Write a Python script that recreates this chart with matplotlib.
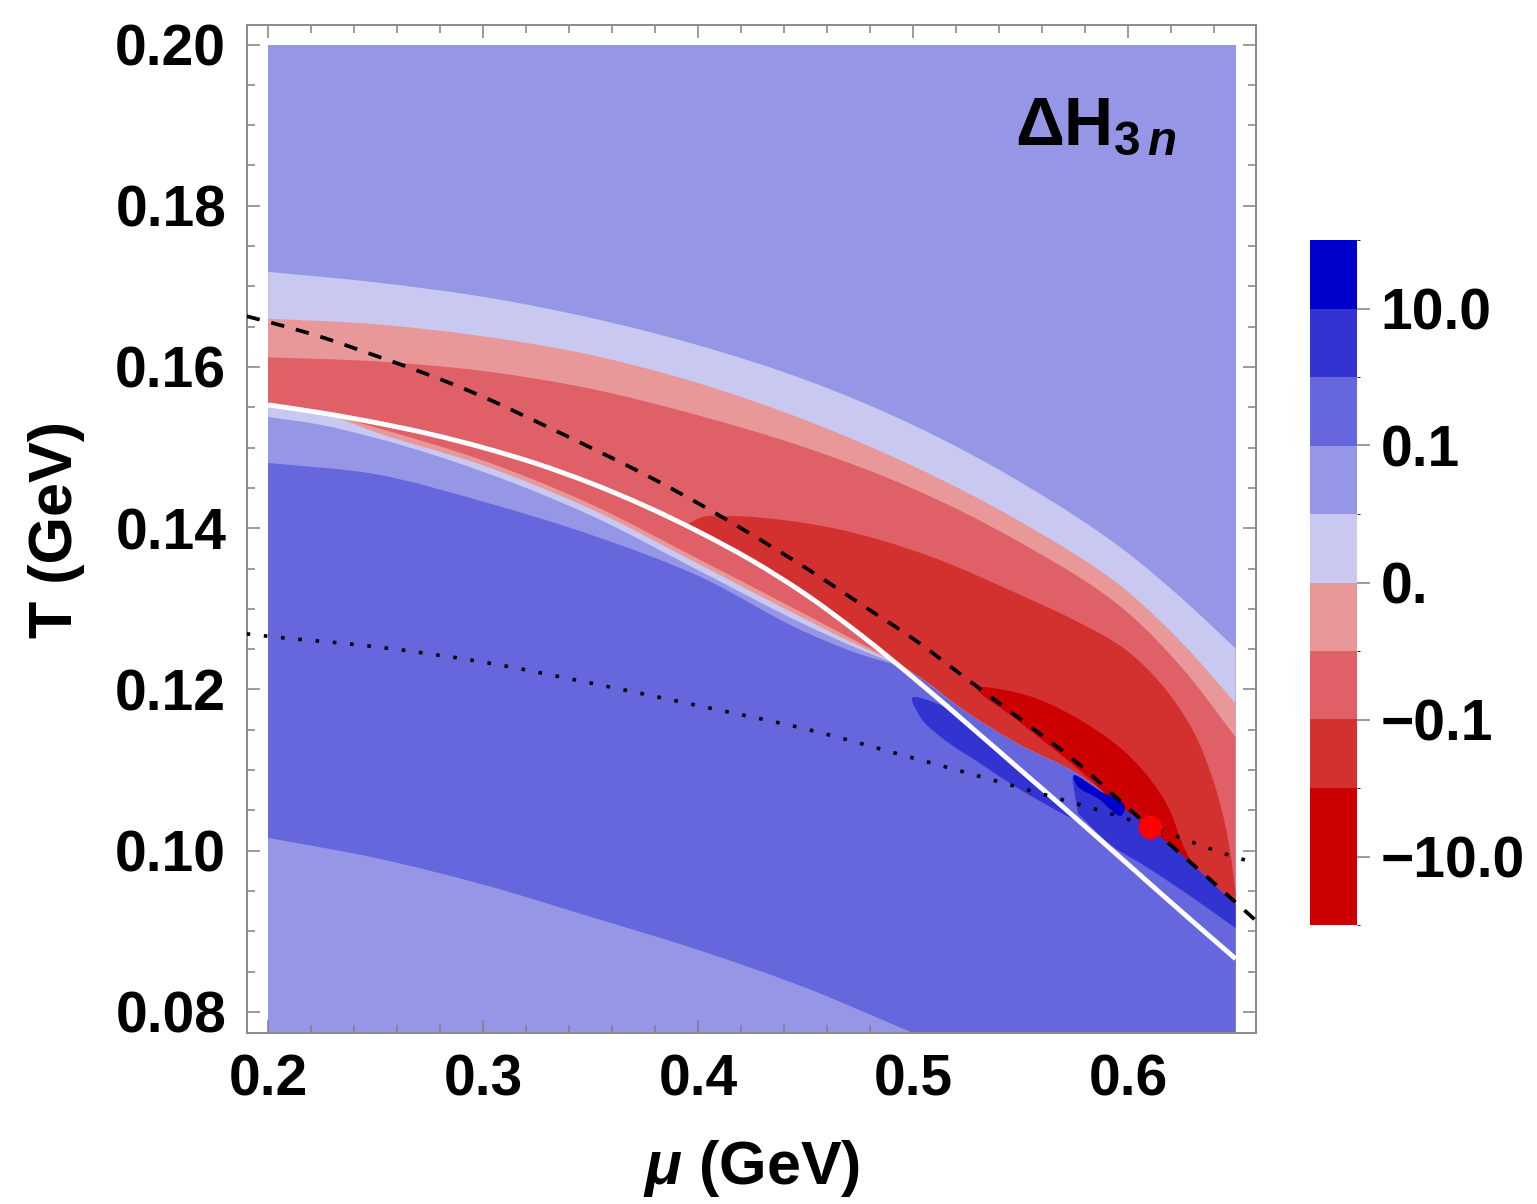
import numpy as np
import matplotlib
matplotlib.use("Agg")
import matplotlib.pyplot as plt
from matplotlib.colors import ListedColormap, BoundaryNorm
from matplotlib.cm import ScalarMappable
from matplotlib.path import Path
from matplotlib.patches import PathPatch
from matplotlib.ticker import FixedLocator, FixedFormatter, MultipleLocator

plt.rcParams['font.family'] = ['Liberation Sans', 'DejaVu Sans']
plt.rcParams['font.weight'] = 'bold'
plt.rcParams['mathtext.fontset'] = 'custom'
plt.rcParams['mathtext.rm'] = 'Liberation Sans:bold'
plt.rcParams['mathtext.bf'] = 'Liberation Sans:bold'
plt.rcParams['mathtext.it'] = 'Liberation Sans:italic:bold'

# ---- contour levels of Delta H_3n and the colour of each interval ----
levels = [-100, -10, -1, -0.1, -0.01, 0, 0.01, 0.1, 1, 10, 100]
band_colors = ['#CC0000', '#CC0000', '#D33030', '#DF6066', '#E89898',
               '#C8C8F0', '#9696E6', '#6666DD', '#3333D2', '#0000CC']
cbar_ticks = [-10, -0.1, 0, 0.1, 10]
cbar_ticklabels = ['\u221210.0', '\u22120.1', '0.', '0.1', '10.0']

x_ticks = [0.2, 0.3, 0.4, 0.5, 0.6]
x_ticklabels = ['0.2', '0.3', '0.4', '0.5', '0.6']
y_ticks = [0.08, 0.10, 0.12, 0.14, 0.16, 0.18, 0.20]
y_ticklabels = ['0.08', '0.10', '0.12', '0.14', '0.16', '0.18', '0.20']

mu_range = (0.2, 0.65)
T_range = (0.0774, 0.2)

# ---- contour boundaries of the upper (hadronic side) bands ----
mu_bands = [0.2, 0.25, 0.3, 0.35, 0.4, 0.45, 0.5, 0.55, 0.6, 0.625, 0.65]
T_level_p001 = [0.1718, 0.1705, 0.1687, 0.1661, 0.1627, 0.1584, 0.1528, 0.1457, 0.1369, 0.1313, 0.1251]
T_level_0 = [0.1660, 0.1653, 0.1638, 0.1615, 0.1580, 0.1534, 0.1477, 0.1408, 0.1321, 0.1258, 0.1183]
T_level_m001 = [0.1612, 0.1607, 0.1595, 0.1573, 0.1540, 0.1500, 0.1449, 0.1382, 0.1295, 0.1227, 0.1141]

mu_level_m01 = [0.395, 0.401, 0.416, 0.44, 0.463, 0.509, 0.55, 0.575, 0.6, 0.615, 0.63, 0.64, 0.647, 0.65]
T_level_m01 = [0.1405, 0.1413, 0.1415, 0.1410, 0.1400, 0.1364, 0.1317, 0.1286, 0.1247, 0.1208, 0.1150, 0.1084, 0.1007, 0.0948]

# region below -1 (closed contour)
mu_level_m1 = [0.5298, 0.5484, 0.5791, 0.6023, 0.6181, 0.6265, 0.6335, 0.6102, 0.5791, 0.5484]
T_level_m1 = [0.1202, 0.1196, 0.1160, 0.1113, 0.1057, 0.1001, 0.0966, 0.1017, 0.1096, 0.1162]

# phase boundary (white curve)
mu_boundary = [0.2, 0.225, 0.25, 0.275, 0.3, 0.325, 0.35, 0.375, 0.4, 0.425,
               0.45, 0.475, 0.5, 0.525, 0.55, 0.575, 0.6, 0.625, 0.65]
T_boundary = [0.1553, 0.1543, 0.1531, 0.1517, 0.1500, 0.1480, 0.1456, 0.1428, 0.1396, 0.1360,
              0.1318, 0.1269, 0.1215, 0.1158, 0.1100, 0.1042, 0.0983, 0.0924, 0.0866]

# lower edge of the negative region beyond the kink of the boundary
mu_red_edge = [0.49, 0.5, 0.525, 0.55, 0.575, 0.6, 0.625, 0.65]
T_red_edge = [0.1237, 0.1221, 0.1172, 0.1131, 0.1098, 0.1048, 0.0995, 0.0933]

# thin lens just below the boundary
mu_lens = [0.2, 0.225, 0.25, 0.3, 0.35, 0.4, 0.45, 0.475, 0.49]
T_lens_top = [0.1553, 0.1543, 0.1531, 0.1500, 0.1456, 0.1396, 0.1318, 0.1269, 0.1237]
T_lens_m001 = [0.1553, 0.1543, 0.1525, 0.1484, 0.1430, 0.1362, 0.1293, 0.1258, 0.1237]
T_lens_0 = [0.1553, 0.1543, 0.1519, 0.1478, 0.1424, 0.1356, 0.1287, 0.1254, 0.1236]
T_lens_p001 = [0.1538, 0.1528, 0.1512, 0.1470, 0.1416, 0.1348, 0.1280, 0.1250, 0.1234]

# lower (quark side) contours
mu_level_p01 = [0.2, 0.25, 0.3, 0.35, 0.4, 0.45, 0.475, 0.49]
T_level_p01 = [0.1481, 0.1467, 0.1433, 0.1392, 0.1341, 0.1271, 0.1244, 0.1232]
mu_level_p01_low = [0.2, 0.25, 0.3, 0.35, 0.4, 0.45, 0.5]
T_level_p01_low = [0.1016, 0.0991, 0.0958, 0.0918, 0.0877, 0.0830, 0.0774]

# regions above +1 and +10 near the boundary
mu_level_p1a = [0.4995, 0.5126, 0.5265, 0.5498, 0.58, 0.5614, 0.546, 0.5302, 0.5149, 0.5033]
T_level_p1a = [0.1189, 0.1181, 0.1158, 0.1101, 0.1032, 0.1058, 0.1082, 0.1110, 0.1137, 0.1166]
mu_level_p1b_top = [0.574, 0.6, 0.625, 0.65]
T_level_p1b_top = [0.1091, 0.1048, 0.0995, 0.0933]
mu_level_p1b_bot = [0.65, 0.6288, 0.6079, 0.5926, 0.5767]
T_level_p1b_bot = [0.0904, 0.0944, 0.0981, 0.1006, 0.1046]
mu_level_p10 = [0.5745, 0.587, 0.5985, 0.5975, 0.586, 0.576]
T_level_p10 = [0.1092, 0.1074, 0.1052, 0.1045, 0.1065, 0.1082]

# reference curves and critical end point
mu_dashed = [0.19, 0.2, 0.225, 0.25, 0.275, 0.3, 0.325, 0.35, 0.375, 0.4, 0.425,
             0.45, 0.475, 0.5, 0.525, 0.55, 0.575, 0.6, 0.625, 0.65, 0.66]
T_dashed = [0.1663, 0.1656, 0.1637, 0.1614, 0.1590, 0.1563, 0.1532, 0.1500, 0.1467, 0.1431, 0.1392,
            0.1351, 0.1307, 0.1263, 0.1213, 0.1163, 0.1112, 0.1053, 0.0995, 0.0936, 0.0912]
mu_dotted = [0.19, 0.2, 0.25, 0.3, 0.35, 0.4, 0.45, 0.5, 0.55, 0.6, 0.65, 0.66]
T_dotted = [0.1269, 0.1266, 0.1253, 0.1234, 0.1208, 0.1180, 0.1151, 0.1115, 0.1078, 0.1039, 0.0992, 0.0984]
cep_mu, cep_T = 0.6102, 0.1029

# relative screen scale of the two axes, used for chord-length spline parameters
AXIS_SCALE = np.array([2150.0, 8062.0])


# ---- helpers: smooth cubic Hermite (chord-length) paths through knots ----
def bezier_pieces(mu, T, closed=False):
    p = np.column_stack([mu, T]).astype(float)
    n = len(p)
    nseg = n if closed else n - 1
    d = np.array([np.hypot(*((p[(i + 1) % n] - p[i]) * AXIS_SCALE)) for i in range(nseg)])
    d = np.maximum(d, 1e-9)
    m = np.zeros_like(p)
    for i in range(n):
        if not closed and i == 0:
            m[i] = (p[1] - p[0]) / d[0]
        elif not closed and i == n - 1:
            m[i] = (p[-1] - p[-2]) / d[-1]
        else:
            da, db = d[(i - 1) % nseg], d[i % nseg]
            sa = (p[i] - p[(i - 1) % n]) / da
            sb = (p[(i + 1) % n] - p[i]) / db
            m[i] = (sa * db + sb * da) / (da + db)
    verts, codes = [p[0]], []
    for i in range(nseg):
        j = (i + 1) % n
        verts += [p[i] + m[i] * d[i] / 3.0, p[j] - m[j] * d[i] / 3.0, p[j]]
        codes += [Path.CURVE4] * 3
    return verts, codes


def shape_path(pieces):
    """pieces: list of (mu, T) runs; runs are smoothed, joined by straight edges."""
    verts, codes = [], []
    for k, (mu, T) in enumerate(pieces):
        v, c = bezier_pieces(mu, T)
        verts.append(v[0])
        codes.append(Path.MOVETO if k == 0 else Path.LINETO)
        verts += v[1:]
        codes += c
    verts.append(verts[0])
    codes.append(Path.CLOSEPOLY)
    return Path(verts, codes)


def closed_path(mu, T):
    v, c = bezier_pieces(mu, T, closed=True)
    return Path(v, [Path.MOVETO] + c)


def curve_path(mu, T):
    v, c = bezier_pieces(mu, T)
    return Path(v, [Path.MOVETO] + c)


fig = plt.figure(figsize=(15.37, 12.04), dpi=100)
ax = fig.add_axes([247 / 1537, 1 - 1033 / 1204, 1009 / 1537, 1008 / 1204])
ax.set_facecolor('white')

c = dict(zip(['m100', 'm10', 'm1', 'm01', 'm001', 'p0', 'p001', 'p01', 'p1', 'p10'], band_colors))


def add_fill(path, color, z):
    ax.add_patch(PathPatch(path, facecolor=color, edgecolor='none', lw=0, zorder=z))


def rev(a):
    return list(a)[::-1]


# background level (0.01 .. 0.1)
ax.fill([mu_range[0], mu_range[1], mu_range[1], mu_range[0]],
        [T_range[0], T_range[0], T_range[1], T_range[1]],
        facecolor=c['p001'], edgecolor='none', lw=0, zorder=1)

# main region 0.1 .. 1
add_fill(shape_path([(mu_level_p01, T_level_p01),
                     (mu_red_edge[1:], T_red_edge[1:]),
                     ([mu_range[1], mu_level_p01_low[-1]], [T_range[0], T_range[0]]),
                     (rev(mu_level_p01_low), rev(T_level_p01_low))]),
         c['p01'], 2)

# lower edge of the upper bands: boundary curve, then the red edge
sel = [i for i, m in enumerate(mu_boundary) if m < 0.49]
mu_low = [mu_boundary[i] for i in sel] + mu_red_edge
T_low = [T_boundary[i] for i in sel] + T_red_edge

for T_top, key, z in [(T_level_p001, 'p0', 3), (T_level_0, 'm001', 3.1),
                      (T_level_m001, 'm01', 3.2)]:
    add_fill(shape_path([(mu_bands, T_top), (rev(mu_low), rev(T_low))]), c[key], z)

sel2 = [i for i, m in enumerate(mu_low) if m > mu_level_m01[0]]
add_fill(shape_path([(mu_level_m01, T_level_m01),
                     (rev([mu_low[i] for i in sel2]), rev([T_low[i] for i in sel2]))]),
         c['m1'], 3.3)

# lens below the boundary
for T_bot, key, z in [(T_lens_p001, 'p0', 4), (T_lens_0, 'm001', 4.1),
                      (T_lens_m001, 'm01', 4.2)]:
    add_fill(shape_path([(mu_lens, T_lens_top), (rev(mu_lens), rev(T_bot))]), c[key], z)

# strong regions near the critical point
add_fill(closed_path(mu_level_m1, T_level_m1), c['m10'], 5)
add_fill(closed_path(mu_level_p1a, T_level_p1a), c['p1'], 5.1)
add_fill(shape_path([(mu_level_p1b_top, T_level_p1b_top),
                     (mu_level_p1b_bot, T_level_p1b_bot)]), c['p1'], 5.2)
add_fill(closed_path(mu_level_p10, T_level_p10), c['p10'], 5.3)

# curves
ax.add_patch(PathPatch(curve_path(mu_boundary, T_boundary), fill=False,
                       edgecolor='white', lw=3.5, capstyle='butt', zorder=6))
ax.add_patch(PathPatch(curve_path(mu_dotted, T_dotted), fill=False, edgecolor='black',
                       lw=2.6, linestyle=(0, (1, 3.8)), capstyle='butt', zorder=7))
ax.add_patch(PathPatch(curve_path(mu_dashed, T_dashed), fill=False, edgecolor='black',
                       lw=2.7, linestyle=(0, (3.6, 3.2)), capstyle='butt', zorder=7))
ax.plot([cep_mu], [cep_T], 'o', color='#FF0000', ms=17, mec='none', zorder=8)

ax.text(0.761, 0.881, r'$\mathbf{\Delta H}_{\mathbf{3}\,\mathit{n}}$',
        transform=ax.transAxes, fontsize=49, ha='left', va='baseline', zorder=9)

# axes, ticks, frame
ax.set_xlim(0.1902, 0.6595)
ax.set_ylim(0.07739, 0.20242)
ax.xaxis.set_major_locator(FixedLocator(x_ticks))
ax.xaxis.set_major_formatter(FixedFormatter(x_ticklabels))
ax.yaxis.set_major_locator(FixedLocator(y_ticks))
ax.yaxis.set_major_formatter(FixedFormatter(y_ticklabels))
ax.xaxis.set_minor_locator(MultipleLocator(0.02))
ax.yaxis.set_minor_locator(MultipleLocator(0.005))
ax.tick_params(which='both', direction='in', top=True, right=True,
               color='#808080', width=1.1)
ax.tick_params(which='major', length=9.5, labelsize=41, pad=15)
ax.tick_params(which='minor', length=5.5)
for sp in ax.spines.values():
    sp.set_color('#8a8a8a')
    sp.set_linewidth(1.4)

ax.set_xlabel(r'$\mathit{\mu}$ (GeV)', fontsize=44, fontweight='bold', labelpad=22)
ax.set_ylabel('T (GeV)', fontsize=44, fontweight='bold', labelpad=22)

# colour bar
cax = fig.add_axes([1310 / 1537, 1 - 925 / 1204, 47 / 1537, 685 / 1204])
cmap = ListedColormap(band_colors)
norm = BoundaryNorm(levels, cmap.N)
cb = fig.colorbar(ScalarMappable(norm=norm, cmap=cmap), cax=cax,
                  spacing='uniform', ticks=cbar_ticks)
cb.set_ticklabels(cbar_ticklabels)
cb.outline.set_visible(False)
cax.tick_params(length=9, width=1.1, color='#808080', labelsize=41, pad=8)

fig.savefig('out.png', dpi=100)
